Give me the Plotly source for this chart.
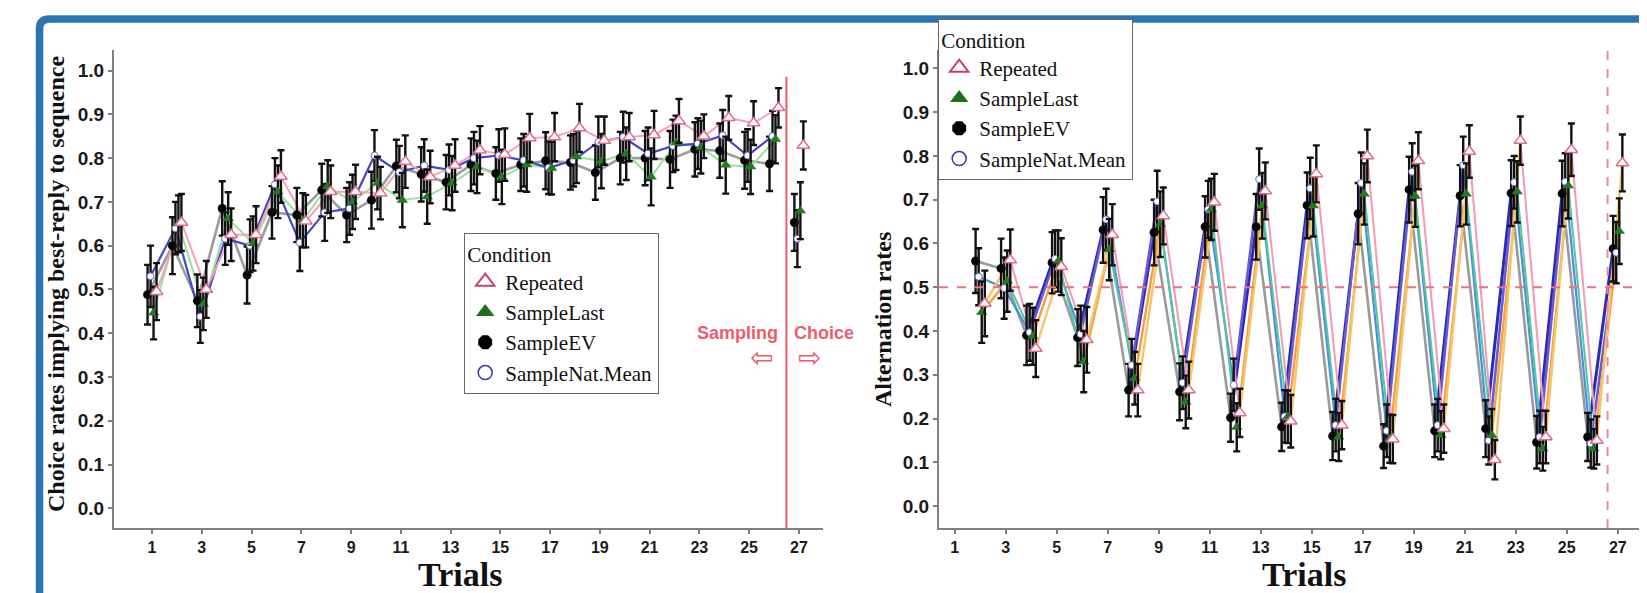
import plotly.graph_objects as go

# ---------------- data ----------------
trials = list(range(1, 28))
series = ["Repeated", "SampleLast", "SampleEV", "SampleNat.Mean"]
x_tick_vals = list(range(1, 28, 2))
y_tick_vals = [0.0, 0.1, 0.2, 0.3, 0.4, 0.5, 0.6, 0.7, 0.8, 0.9, 1.0]

# Left panel: choice rates implying best-reply to sequence
left_ev = [0.488, 0.60, 0.474, 0.685, 0.533, 0.676, 0.67, 0.727, 0.67, 0.704, 0.782, 0.763, 0.745,
           0.785, 0.765, 0.785, 0.794, 0.79, 0.767, 0.80, 0.80, 0.797, 0.82, 0.817, 0.795, 0.787, 0.653]
left_nat = [0.53, 0.64, 0.438, 0.616, 0.60, 0.74, 0.607, 0.676, 0.685, 0.806, 0.768, 0.783, 0.773,
            0.80, 0.806, 0.795, 0.778, 0.795, 0.837, 0.848, 0.81, 0.828, 0.833, 0.852, 0.806, 0.85, 0.616]
left_last = [0.446, 0.65, 0.467, 0.662, 0.605, 0.723, 0.658, 0.735, 0.70, 0.743, 0.704, 0.712, 0.743,
             0.78, 0.757, 0.785, 0.777, 0.803, 0.793, 0.81, 0.757, 0.835, 0.825, 0.784, 0.78, 0.843, 0.68]
left_rep = [0.495, 0.653, 0.50, 0.625, 0.625, 0.758, 0.656, 0.723, 0.723, 0.72, 0.792, 0.757, 0.783,
            0.818, 0.808, 0.846, 0.848, 0.869, 0.84, 0.848, 0.853, 0.885, 0.85, 0.892, 0.88, 0.915, 0.829]

left_ev_se = [0.068, 0.065, 0.06, 0.062, 0.065, 0.06, 0.062, 0.06, 0.062, 0.065, 0.06, 0.062, 0.062,
              0.06, 0.06, 0.06, 0.065, 0.062, 0.062, 0.06, 0.062, 0.065, 0.062, 0.062, 0.065, 0.062, 0.065]
left_nat_se = [0.07, 0.06, 0.06, 0.06, 0.06, 0.06, 0.065, 0.065, 0.06, 0.058, 0.06, 0.06, 0.058,
               0.06, 0.06, 0.06, 0.06, 0.06, 0.058, 0.058, 0.06, 0.06, 0.058, 0.058, 0.06, 0.058, 0.065]
left_last_se = [0.06, 0.065, 0.06, 0.06, 0.062, 0.06, 0.062, 0.06, 0.062, 0.06, 0.062, 0.062, 0.062,
                0.06, 0.062, 0.062, 0.06, 0.06, 0.062, 0.06, 0.065, 0.062, 0.06, 0.065, 0.062, 0.055, 0.065]
left_rep_se = [0.065, 0.065, 0.065, 0.06, 0.065, 0.06, 0.06, 0.06, 0.062, 0.06, 0.06, 0.06, 0.06,
               0.055, 0.06, 0.055, 0.055, 0.055, 0.055, 0.055, 0.055, 0.05, 0.05, 0.05, 0.05, 0.045, 0.055]

# Right panel: alternation rates
right_ev = [None, 0.56, 0.543, 0.39, 0.556, 0.385, 0.631, 0.265, 0.625, 0.261, 0.638, 0.202, 0.638,
            0.181, 0.687, 0.16, 0.668, 0.137, 0.723, 0.172, 0.709, 0.177, 0.715, 0.146, 0.714, 0.158, 0.588]
right_nat = [None, 0.524, 0.498, 0.397, 0.565, 0.393, 0.655, 0.322, 0.696, 0.282, 0.678, 0.277, 0.747,
             0.205, 0.726, 0.185, 0.738, 0.172, 0.764, 0.185, 0.779, 0.15, 0.74, 0.158, 0.741, 0.143, 0.579]
right_last = [None, 0.443, 0.514, 0.388, 0.56, 0.33, 0.586, 0.292, 0.644, 0.238, 0.678, 0.18, 0.686,
              0.204, 0.686, 0.158, 0.713, 0.154, 0.708, 0.162, 0.713, 0.162, 0.718, 0.131, 0.732, 0.131, 0.628]
right_rep = [None, 0.463, 0.562, 0.36, 0.547, 0.38, 0.62, 0.265, 0.663, 0.265, 0.694, 0.213, 0.72,
             0.194, 0.759, 0.185, 0.80, 0.153, 0.789, 0.177, 0.81, 0.106, 0.835, 0.158, 0.814, 0.15, 0.784]

right_ev_se = [None, 0.073, 0.068, 0.068, 0.07, 0.065, 0.075, 0.06, 0.075, 0.065, 0.07, 0.055, 0.075,
               0.055, 0.075, 0.055, 0.07, 0.05, 0.075, 0.06, 0.07, 0.065, 0.075, 0.06, 0.075, 0.055, 0.075]
right_nat_se = [None, 0.065, 0.07, 0.065, 0.065, 0.065, 0.07, 0.06, 0.07, 0.06, 0.065, 0.06, 0.07,
                0.06, 0.07, 0.06, 0.07, 0.06, 0.065, 0.06, 0.065, 0.055, 0.06, 0.06, 0.065, 0.055, 0.07]
right_last_se = [None, 0.07, 0.07, 0.065, 0.07, 0.07, 0.07, 0.06, 0.075, 0.06, 0.07, 0.055, 0.075,
                 0.06, 0.07, 0.055, 0.07, 0.055, 0.07, 0.055, 0.07, 0.06, 0.07, 0.05, 0.075, 0.045, 0.075]
right_rep_se = [None, 0.075, 0.07, 0.065, 0.065, 0.075, 0.07, 0.06, 0.065, 0.065, 0.065, 0.055, 0.065,
                0.06, 0.065, 0.055, 0.06, 0.055, 0.065, 0.055, 0.06, 0.045, 0.055, 0.06, 0.06, 0.055, 0.065]

left_data = {"Repeated": (left_rep, left_rep_se), "SampleLast": (left_last, left_last_se),
             "SampleEV": (left_ev, left_ev_se), "SampleNat.Mean": (left_nat, left_nat_se)}
right_data = {"Repeated": (right_rep, right_rep_se), "SampleLast": (right_last, right_last_se),
              "SampleEV": (right_ev, right_ev_se), "SampleNat.Mean": (right_nat, right_nat_se)}

# ---------------- styles ----------------
W, H = 1647, 593
SERIF = "Liberation Serif, Times New Roman, serif"
SANS = "Liberation Sans Narrow, Liberation Sans, Arial, sans-serif"
RED = "#ef5b6c"

dodge = {"SampleEV": -0.18, "SampleNat.Mean": -0.06, "SampleLast": 0.06, "Repeated": 0.18}
left_line_color = {"Repeated": "#f4a3ba", "SampleLast": "#98e498", "SampleEV": "#9c9c9c",
                   "SampleNat.Mean": "#4646c6"}
right_up_color = {"SampleEV": "#2a2ab4", "SampleNat.Mean": "#6a5ad0", "SampleLast": "#f5a040",
                  "Repeated": "#f7c46a"}
right_down_color = {"SampleEV": "#9a9a9a", "SampleNat.Mean": "#4c8ede", "SampleLast": "#52c8a0",
                    "Repeated": "#f49ab2"}
line_w = {"SampleEV": 2.6, "SampleNat.Mean": 2.2, "SampleLast": 2.0, "Repeated": 2.0}

marker_style = {
    "Repeated": dict(symbol="triangle-up", size=11, color="white", line=dict(color="#df6b8c", width=1.5)),
    "SampleLast": dict(symbol="triangle-up", size=10, color="#237a23", line=dict(color="#237a23", width=0)),
    "SampleEV": dict(symbol="circle", size=9, color="#050505", line=dict(color="#050505", width=0)),
    "SampleNat.Mean": dict(symbol="circle", size=7, color="white", line=dict(color="#6a6ac8", width=1)),
}
legend_marker = {
    "Repeated": dict(symbol="triangle-up-open", size=16, color="#c8406a", line=dict(width=2)),
    "SampleLast": dict(symbol="triangle-up", size=16, color="#1f6f1f"),
    "SampleEV": dict(symbol="octagon", size=15, color="black"),
    "SampleNat.Mean": dict(symbol="circle-open", size=14, color="#3838b0", line=dict(width=1.5)),
}

fig = go.Figure()


def xs_for(name):
    return [t + dodge[name] for t in trials]


# lines - left panel (trials 1..26 connected, trial 27 separate)
for name in ["SampleEV", "SampleLast", "SampleNat.Mean", "Repeated"]:
    vals = left_data[name][0]
    xs = xs_for(name)
    fig.add_trace(go.Scatter(x=xs[:26], y=vals[:26], mode="lines",
                             line=dict(color=left_line_color[name], width=line_w[name]),
                             xaxis="x", yaxis="y", showlegend=False, hoverinfo="skip"))

# lines - right panel, coloured by direction of the segment
for name in ["SampleEV", "SampleNat.Mean", "SampleLast", "Repeated"]:
    vals = right_data[name][0]
    xs = xs_for(name)
    up_x, up_y, dn_x, dn_y = [], [], [], []
    for i in range(len(vals) - 1):
        if vals[i] is None or vals[i + 1] is None:
            continue
        if vals[i + 1] >= vals[i]:
            up_x += [xs[i], xs[i + 1], None]
            up_y += [vals[i], vals[i + 1], None]
        else:
            dn_x += [xs[i], xs[i + 1], None]
            dn_y += [vals[i], vals[i + 1], None]
    fig.add_trace(go.Scatter(x=dn_x, y=dn_y, mode="lines",
                             line=dict(color=right_down_color[name], width=line_w[name]),
                             xaxis="x2", yaxis="y2", showlegend=False, hoverinfo="skip"))
    fig.add_trace(go.Scatter(x=up_x, y=up_y, mode="lines",
                             line=dict(color=right_up_color[name], width=line_w[name] + 0.4),
                             xaxis="x2", yaxis="y2", showlegend=False, hoverinfo="skip"))

# points with error bars
for data, xa, ya in [(left_data, "x", "y"), (right_data, "x2", "y2")]:
    for name in ["SampleEV", "SampleNat.Mean", "SampleLast", "Repeated"]:
        vals, se = data[name]
        se_clean = [s if s is not None else 0 for s in se]
        fig.add_trace(go.Scatter(
            x=xs_for(name), y=vals, mode="markers",
            marker=marker_style[name],
            error_y=dict(type="data", array=se_clean, visible=True, color="#111111",
                         thickness=2.4, width=3.5),
            xaxis=xa, yaxis=ya, showlegend=False, hoverinfo="skip"))

# legend-only traces
for lg in ["legend", "legend2"]:
    for name in series:
        fig.add_trace(go.Scatter(x=[None], y=[None], mode="markers", name=name,
                                 marker=legend_marker[name], legend=lg,
                                 xaxis="x", yaxis="y", showlegend=True))

# ---------------- layout ----------------
def px_x(p):
    return p / W


def px_y(p):
    return 1 - p / H


y_dom = [px_y(520), px_y(42)]
axis_common = dict(showgrid=False, zeroline=False, showline=True, linecolor="#808080", linewidth=2,
                   ticks="outside", ticklen=4, tickcolor="#808080", tickwidth=1.5)
xtick_font = dict(family=SANS, size=16, color="#1a1a1a", weight="bold")
ytick_font = dict(family=SANS, size=19, color="#1a1a1a", weight="bold")
legend_common = dict(xanchor="left", yanchor="top", bgcolor="white", bordercolor="#666666",
                     borderwidth=1.2,
                     title=dict(text="Condition", font=dict(family=SERIF, size=21, color="#111111")),
                     font=dict(family=SERIF, size=21, color="#111111"),
                     itemsizing="trace", tracegroupgap=0)

fig.update_layout(
    width=W, height=H,
    margin=dict(l=0, r=0, t=0, b=0),
    paper_bgcolor="white", plot_bgcolor="white",
    xaxis=dict(domain=[px_x(106), px_x(815)], range=[-0.53, 27.97], tickvals=x_tick_vals,
               tickfont=xtick_font, anchor="y", **axis_common),
    yaxis=dict(domain=y_dom, range=[-0.045, 1.047], tickvals=y_tick_vals, tickformat=".1f",
               tickfont=ytick_font, anchor="x", **axis_common),
    xaxis2=dict(domain=[px_x(931), 1.0], range=[0.385, 28.46], tickvals=x_tick_vals,
                tickfont=xtick_font, anchor="y2", **axis_common),
    yaxis2=dict(domain=y_dom, range=[-0.05, 1.042], tickvals=y_tick_vals, tickformat=".1f",
                tickfont=ytick_font, anchor="x2", **axis_common),
    legend=dict(x=px_x(456), y=px_y(225), **legend_common),
    legend2=dict(x=px_x(930), y=px_y(11), **legend_common),
)

# reference lines
fig.add_shape(type="line", xref="x", yref="y", x0=26.5, x1=26.5, y0=-0.045, y1=0.986,
              line=dict(color=RED, width=2))
fig.add_shape(type="line", xref="x2", yref="y2 domain", x0=26.6, x1=26.6, y0=0, y1=1,
              line=dict(color="#f08a96", width=2, dash="dash"))
fig.add_shape(type="line", xref="x2 domain", yref="y2", x0=0, x1=1, y0=0.5, y1=0.5,
              line=dict(color="#f07080", width=2, dash="dash"))

# blue frame with rounded top-left corner
r = 10
x0, y0 = 31.5, 11
path = (f"M {px_x(x0)},{px_y(H + 20)} L {px_x(x0)},{px_y(y0 + r)} "
        f"Q {px_x(x0)},{px_y(y0)} {px_x(x0 + r)},{px_y(y0)} L {px_x(W + 20)},{px_y(y0)}")
fig.add_shape(type="path", xref="paper", yref="paper", path=path,
              line=dict(color="#2e74b5", width=7.5))

# text annotations
ann = [
    dict(text="<b>Trials</b>", x=(px_x(106) + px_x(815)) / 2 - 0.005, y=px_y(566),
         font=dict(family=SERIF, size=34, color="#111111")),
    dict(text="<b>Trials</b>", x=(px_x(931) + 1.0) / 2 + 0.004, y=px_y(566),
         font=dict(family=SERIF, size=34, color="#111111")),
    dict(text="<b>Choice rates implying best-reply to sequence</b>", x=px_x(48), y=px_y(276),
         textangle=-90, font=dict(family=SERIF, size=24, color="#111111")),
    dict(text="<b>Alternation rates</b>", x=px_x(875), y=px_y(312),
         textangle=-90, font=dict(family=SERIF, size=24, color="#111111")),
]
for a in ann:
    fig.add_annotation(xref="paper", yref="paper", showarrow=False, xanchor="center",
                       yanchor="middle", borderpad=0, **a)

fig.add_annotation(xref="paper", yref="paper", x=px_x(729), y=px_y(325), text="<b>Sampling</b>",
                   showarrow=False, font=dict(family=SANS, size=18, color=RED))
fig.add_annotation(xref="paper", yref="paper", x=px_x(816), y=px_y(325), text="<b>Choice</b>",
                   showarrow=False, font=dict(family=SANS, size=18, color=RED))
fig.add_annotation(xref="paper", yref="paper", x=px_x(753), y=px_y(349), text="⇦",
                   showarrow=False, font=dict(family="DejaVu Sans", size=28, color=RED))
fig.add_annotation(xref="paper", yref="paper", x=px_x(801), y=px_y(349), text="⇨",
                   showarrow=False, font=dict(family="DejaVu Sans", size=28, color=RED))

fig.write_html("out.html")
